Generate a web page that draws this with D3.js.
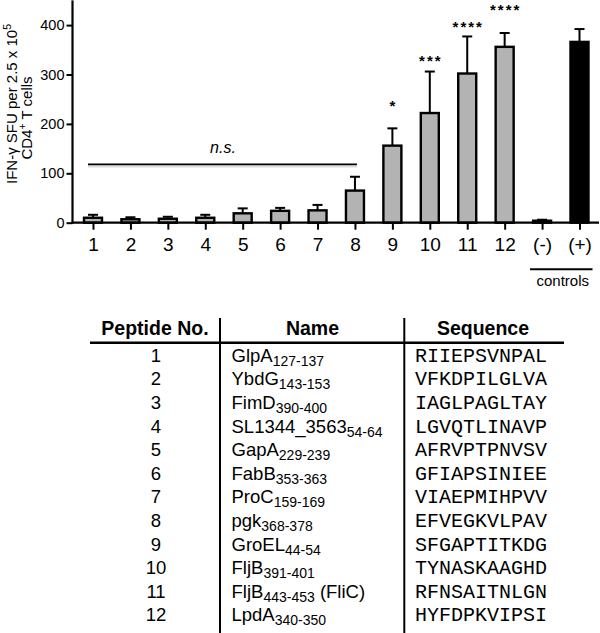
<!DOCTYPE html>
<html>
<head>
<meta charset="utf-8">
<script src="https://cdn.jsdelivr.net/npm/d3@7"></script>
<style>
  body { margin: 0; background: #fff; }
  svg { display: block; }
  text { font-family: "Liberation Sans", Arial, sans-serif; fill: #000; }
</style>
</head>
<body>
<svg id="chart" width="600" height="633"></svg>
<script>
// ---- Data ----
const categories = ["1","2","3","4","5","6","7","8","9","10","11","12","(-)","(+)"];
const means      = [10, 7, 8, 10, 19, 24, 25, 65, 156, 222, 302, 356, 4, 366];
const errors     = [6, 4, 4, 6, 10, 6, 11, 28, 35, 84, 75, 28, 2, 26];
const barKinds   = ["p","p","p","p","p","p","p","p","p","p","p","p","p","ctrl"];
const yTicks     = [0, 100, 200, 300, 400];
const sigCats    = ["9", "10", "11", "12"];
const sigLabels  = ["*", "***", "****", "****"];
const sigValues  = [245, 335, 405, 438];
const nsValue    = 118;
const nsFrom     = "1";
const nsTo       = "8";

const peptideNos = ["1","2","3","4","5","6","7","8","9","10","11","12"];
const peptideNames = ["GlpA","YbdG","FimD","SL1344_3563","GapA","FabB","ProC","pgk","GroEL","FljB","FljB","LpdA"];
const peptideRanges = ["127-137","143-153","390-400","54-64","229-239","353-363","159-169","368-378","44-54","391-401","443-453","340-350"];
const peptideSuffix = ["","","","","","","","","",""," (FliC)",""];
const sequences = ["RIIEPSVNPAL","VFKDPILGLVA","IAGLPAGLTAY","LGVQTLINAVP","AFRVPTPNVSV","GFIAPSINIEE","VIAEPMIHPVV","EFVEGKVLPAV","SFGAPTITKDG","TYNASKAAGHD","RFNSAITNLGN","HYFDPKVIPSI"];
const headers = ["Peptide No.", "Name", "Sequence"];

// ---- Chart ----
const svg = d3.select("#chart");
const axisX0 = 72.5, axisX1 = 599;
const y = d3.scaleLinear().domain([0, 450]).range([222.7, 0.4]);
const x = d3.scalePoint().domain(categories).range([93, 579.5]);
const barW = 18;

const g = svg.append("g");

// y axis
const yAxis = g.append("g").attr("transform", `translate(${axisX0},0)`)
  .call(d3.axisLeft(y).tickValues(yTicks).tickSize(6).tickSizeOuter(0).tickPadding(2));
yAxis.select(".domain").remove();
yAxis.selectAll(".tick line").attr("stroke", "#000").attr("stroke-width", 2);
yAxis.selectAll(".tick text").attr("font-size", 14.5).attr("font-family", "Liberation Sans, Arial, sans-serif");
g.append("line").attr("x1", axisX0).attr("x2", axisX0).attr("y1", y(450)).attr("y2", y(0) + 1)
  .attr("stroke", "#000").attr("stroke-width", 2.2);

// x axis
const xAxis = g.append("g").attr("transform", `translate(0,${y(0)})`)
  .call(d3.axisBottom(x).tickSize(7).tickSizeOuter(0).tickPadding(8));
xAxis.select(".domain").remove();
xAxis.selectAll(".tick line").attr("stroke", "#000").attr("stroke-width", 2);
xAxis.selectAll(".tick text").attr("font-size", 19).attr("font-family", "Liberation Sans, Arial, sans-serif");

// error bars (upper only)
const eb = g.append("g");
categories.forEach((c, i) => {
  const cx = x(c);
  eb.append("line").attr("x1", cx).attr("x2", cx)
    .attr("y1", y(means[i])).attr("y2", y(means[i] + errors[i]))
    .attr("stroke", "#000").attr("stroke-width", 2);
  eb.append("line").attr("x1", cx - 5).attr("x2", cx + 5)
    .attr("y1", y(means[i] + errors[i])).attr("y2", y(means[i] + errors[i]))
    .attr("stroke", "#000").attr("stroke-width", 2);
});

// bars
g.append("g").selectAll("rect").data(categories).join("rect")
  .attr("x", d => x(d) - barW / 2)
  .attr("y", (d, i) => y(means[i]))
  .attr("width", barW)
  .attr("height", (d, i) => y(0) - y(means[i]))
  .attr("fill", (d, i) => barKinds[i] === "ctrl" ? "#000" : "#b3b3b3")
  .attr("stroke", "#000").attr("stroke-width", 2.4);

// x axis line over bars
g.append("line").attr("x1", axisX0 - 1).attr("x2", axisX1).attr("y1", y(0)).attr("y2", y(0))
  .attr("stroke", "#000").attr("stroke-width", 2.2);

// significance stars
sigCats.forEach((c, i) => {
  g.append("text").attr("x", x(c) + 1).attr("y", y(sigValues[i]) + 9)
    .attr("text-anchor", "middle").attr("font-size", 15).attr("font-weight", "bold")
    .attr("letter-spacing", 2)
    .text(sigLabels[i]);
});

// n.s. bracket
const nsY = y(nsValue);
g.append("line").attr("x1", x(nsFrom) - 5).attr("x2", x(nsTo) + 2)
  .attr("y1", nsY + 2).attr("y2", nsY + 2).attr("stroke", "#ddd").attr("stroke-width", 2);
g.append("line").attr("x1", x(nsFrom) - 5).attr("x2", x(nsTo) + 2)
  .attr("y1", nsY).attr("y2", nsY).attr("stroke", "#000").attr("stroke-width", 1.8);
g.append("text").attr("x", (x(nsFrom) + x(nsTo)) / 2 - 1).attr("y", nsY - 11)
  .attr("text-anchor", "middle").attr("font-size", 16).attr("font-style", "italic").text("n.s.");

// controls bracket
g.append("line").attr("x1", x("(-)") - 12).attr("x2", x("(+)") + 13)
  .attr("y1", 269.3).attr("y2", 269.3).attr("stroke", "#000").attr("stroke-width", 2);
g.append("text").attr("x", (x("(-)") + x("(+)")) / 2 + 2).attr("y", 286)
  .attr("text-anchor", "middle").attr("font-size", 15).text("controls");

// y axis title
const t1 = g.append("text").attr("transform", "translate(17,104) rotate(-90)")
  .attr("text-anchor", "middle").attr("font-size", 15);
t1.append("tspan").text("IFN-\u03B3 SFU per 2.5 x 10");
t1.append("tspan").attr("font-size", 10.5).attr("dy", -6).text("5");
const t2 = g.append("text").attr("transform", "translate(31.5,118) rotate(-90)")
  .attr("text-anchor", "middle").attr("font-size", 15);
t2.append("tspan").text("CD4");
t2.append("tspan").attr("font-size", 10.5).attr("dy", -6).text("+");
t2.append("tspan").attr("dy", 6).text(" T cells");

// ---- Table ----
const tbl = svg.append("g");
const colNoX = 156, colNameX = 231.5, colSeqX = 415;
const headerCenters = [155, 312.5, 483];
const headerY = 335, row0 = 361.7, rowStep = 23.6;
const rows = d3.range(peptideNos.length);

headers.forEach((h, i) => {
  tbl.append("text").attr("x", headerCenters[i]).attr("y", headerY)
    .attr("text-anchor", "middle").attr("font-size", 19.5).attr("font-weight", "bold").text(h);
});
tbl.append("line").attr("x1", 90).attr("x2", 564).attr("y1", 342.7).attr("y2", 342.7)
  .attr("stroke", "#000").attr("stroke-width", 2.4);
[220, 404.3].forEach(vx => {
  tbl.append("line").attr("x1", vx).attr("x2", vx).attr("y1", 318).attr("y2", 633)
    .attr("stroke", "#000").attr("stroke-width", 2);
});

tbl.append("g").selectAll("text").data(rows).join("text")
  .attr("x", colNoX).attr("y", i => row0 + i * rowStep)
  .attr("text-anchor", "middle").attr("font-size", 18.5)
  .text(i => peptideNos[i]);

rows.forEach(i => {
  const t = tbl.append("text").attr("x", colNameX).attr("y", row0 + i * rowStep).attr("font-size", 18.5);
  t.append("tspan").text(peptideNames[i]);
  t.append("tspan").attr("font-size", 14).attr("dy", 4).text(peptideRanges[i]);
  if (peptideSuffix[i]) t.append("tspan").attr("dy", -4).text(peptideSuffix[i]);
});

tbl.append("g").selectAll("text").data(rows).join("text")
  .attr("x", colSeqX).attr("y", i => row0 + i * rowStep)
  .attr("font-size", 20)
  .style("font-family", "'Liberation Mono', 'Courier New', monospace")
  .text(i => sequences[i]);
</script>
</body>
</html>
